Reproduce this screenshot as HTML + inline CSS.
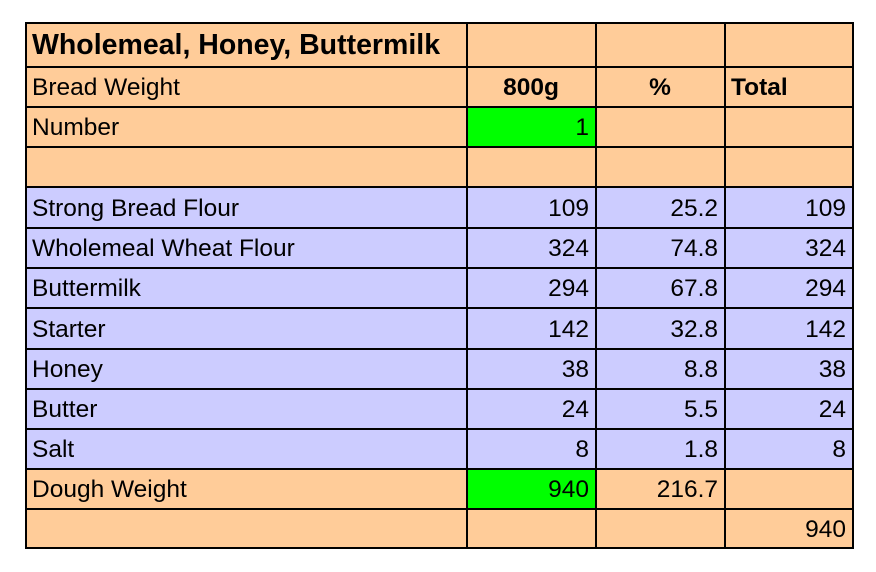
<!DOCTYPE html>
<html><head><style>
body{margin:0;background:#fff;width:876px;height:572px;position:relative;font-family:"Liberation Sans",sans-serif;}
.c{position:absolute;box-sizing:border-box;border:1px solid #000;font-size:24.5px;line-height:1;display:flex;align-items:center;padding:3px 6px 0 5px;color:#000;}
.o{background:#FFCC99}.l{background:#CCCCFF}.g{background:#00FF00}
.r{justify-content:flex-end}.m{justify-content:center}.b{font-weight:bold}
</style></head><body>
<div id="t"></div>
<script>
const ys=[22,67,107,147,187,228,268,308,349,389,429,469,509,549];
const xs=[25,467,596,725,854];
const rows=[
[["Wholemeal, Honey, Buttermilk","o b","font-size:28.5px;padding-left:5px;padding-top:1px"],["","o"],["","o"],["","o"]],
[["Bread Weight","o"],["800g","o b m"],["%","o b m"],["Total","o b"]],
[["Number","o"],["1","g r"],["","o"],["","o"]],
[["","o"],["","o"],["","o"],["","o"]],
[["Strong Bread Flour","l"],["109","l r"],["25.2","l r"],["109","l r"]],
[["Wholemeal Wheat Flour","l"],["324","l r"],["74.8","l r"],["324","l r"]],
[["Buttermilk","l"],["294","l r"],["67.8","l r"],["294","l r"]],
[["Starter","l"],["142","l r"],["32.8","l r"],["142","l r"]],
[["Honey","l"],["38","l r"],["8.8","l r"],["38","l r"]],
[["Butter","l"],["24","l r"],["5.5","l r"],["24","l r"]],
[["Salt","l"],["8","l r"],["1.8","l r"],["8","l r"]],
[["Dough Weight","o"],["940","g r"],["216.7","o r"],["","o"]],
[["","o"],["","o"],["","o"],["940","o r"]]];
let h="";
rows.forEach((r,i)=>r.forEach((c,j)=>{
h+=`<div class="c ${c[1]}" style="left:${xs[j]}px;top:${ys[i]}px;width:${xs[j+1]-xs[j]}px;height:${ys[i+1]-ys[i]}px;border-width:${i==0?2:1}px ${j==3?2:1}px ${i==12?2:1}px ${j==0?2:1}px;${c[2]||""}">${c[0]}</div>`;
}));
document.getElementById("t").outerHTML=h;
</script>
</body></html>
